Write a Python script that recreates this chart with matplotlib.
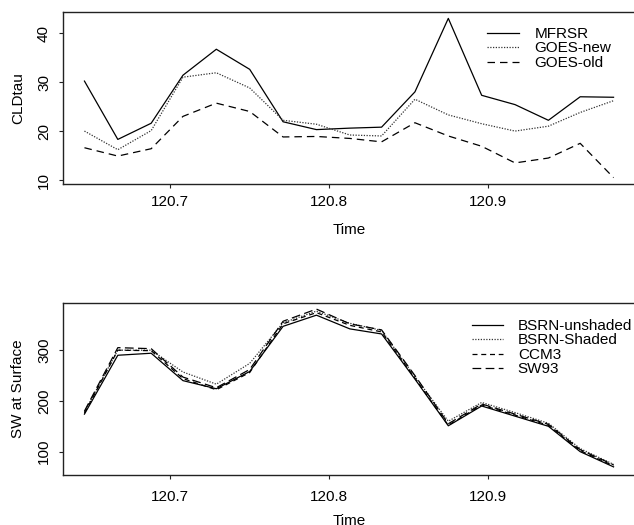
import matplotlib
matplotlib.use('Agg')

import matplotlib.pyplot as plt

# Julian day time stamps (half-hourly)
time = [120.646, 120.667, 120.688, 120.708, 120.729, 120.750, 120.771, 120.792,
        120.813, 120.833, 120.854, 120.875, 120.896, 120.917, 120.938, 120.958, 120.979]

# Cloud optical depth
mfrsr = [30.2, 18.3, 21.6, 31.4, 36.7, 32.6, 21.9, 20.3, 20.6, 20.8, 28.0, 43.0, 27.3, 25.4, 22.2, 27.0, 26.9]
goes_new = [20.0, 16.2, 20.1, 31.0, 31.9, 28.8, 22.2, 21.4, 19.2, 19.0, 26.5, 23.3, 21.5, 20.0, 21.0, 23.8, 26.2]
goes_old = [16.6, 14.9, 16.4, 23.0, 25.7, 24.0, 18.8, 18.9, 18.5, 17.8, 21.7, 19.0, 16.9, 13.5, 14.5, 17.5, 10.5]

# Shortwave flux at surface
bsrn_unshaded = [174, 290, 294, 240, 224, 258, 347, 369, 342, 332, 243, 151, 190, 170, 150, 100, 70]
bsrn_shaded = [178, 300, 300, 257, 233, 274, 354, 377, 353, 339, 248, 160, 197, 177, 156, 106, 75]
ccm3 = [176, 300, 299, 244, 222, 256, 352, 374, 349, 336, 245, 152, 192, 172, 152, 102, 72]
sw93 = [180, 305, 303, 247, 226, 262, 357, 381, 352, 340, 250, 155, 194, 174, 154, 104, 74]

plt.rcParams['font.family'] = ['Liberation Sans', 'DejaVu Sans']
plt.rcParams['font.size'] = 11

W, H = 634, 525
fig = plt.figure(figsize=(W / 100, H / 100), dpi=100)

left, width = 63 / W, 572 / W
ax1 = fig.add_axes([left, 1 - 184 / H, width, 172 / H])
ax2 = fig.add_axes([left, 1 - 475 / H, width, 172 / H])

lw = 0.9
ax1.plot(time, mfrsr, color='black', lw=lw, label='MFRSR')
ax1.plot(time, goes_new, color='#333333', lw=lw, linestyle=(0, (1, 1.2)), label='GOES-new')
ax1.plot(time, goes_old, color='black', lw=lw, linestyle=(0, (6, 4)), label='GOES-old')

ax2.plot(time, bsrn_unshaded, color='black', lw=lw, label='BSRN-unshaded')
ax2.plot(time, bsrn_shaded, color='#333333', lw=lw, linestyle=(0, (1, 1.2)), label='BSRN-Shaded')
ax2.plot(time, ccm3, color='black', lw=lw, linestyle=(0, (4, 3)), label='CCM3')
ax2.plot(time, sw93, color='black', lw=lw, linestyle=(0, (7, 3.5)), label='SW93')

ax1.set_ylim(9.2, 44.3)
ax1.set_yticks([10, 20, 30, 40])
ax2.set_ylim(54, 393)
ax2.set_yticks([100, 200, 300])

for ax, ylab, xpad in [(ax1, 'CLDtau', 5.0), (ax2, 'SW at Surface', 8.0)]:
    ax.set_xlim(120.6325, 120.9925)
    ax.set_xticks([120.7, 120.8, 120.9])
    ax.set_xticklabels(['120.7', '120.8', '120.9'])
    for s in ax.spines.values():
        s.set_color('#222222')
        s.set_linewidth(1.0)
    ax.tick_params(axis='both', length=2.6, width=0.8, color='#222222')
    ax.tick_params(axis='x', pad=xpad)
    ax.tick_params(axis='y', pad=6.0)
    for t in ax.get_yticklabels():
        t.set_rotation(90)
        t.set_va('center')
    ax.set_xlabel('Time')
    ax.xaxis.set_label_coords(0.5, -0.228)
    ax.set_ylabel(ylab)
    ax.yaxis.set_label_coords(-0.066, 0.5)

ax1.legend(loc='upper left', bbox_to_anchor=(487 / W, 1 - 27 / H), bbox_transform=fig.transFigure,
           frameon=False, borderpad=0, borderaxespad=0, handlelength=2.1,
           handletextpad=1.0, labelspacing=0.03)
ax2.legend(loc='upper left', bbox_to_anchor=(472 / W, 1 - 319 / H), bbox_transform=fig.transFigure,
           frameon=False, borderpad=0, borderaxespad=0, handlelength=2.0,
           handletextpad=1.0, labelspacing=0.03)

fig.savefig('out.png', dpi=100)
plt.close(fig)
